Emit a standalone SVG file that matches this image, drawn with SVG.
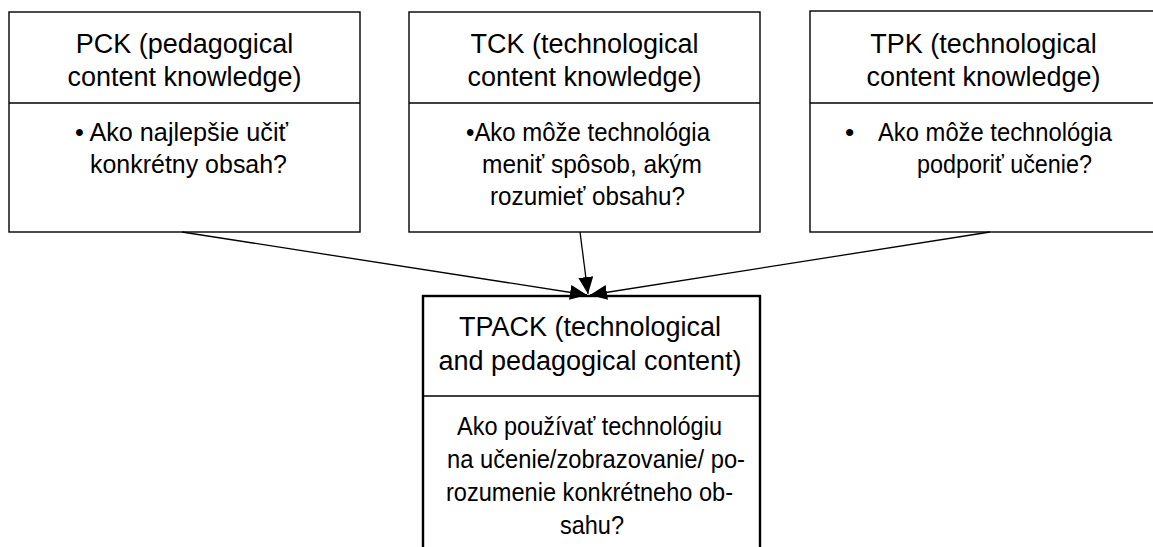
<svg xmlns="http://www.w3.org/2000/svg" width="1153" height="547" viewBox="0 0 1153 547">
<style>
.box{fill:#fff;stroke:#000;stroke-width:1.4}
.tbox{fill:#fff;stroke:#000;stroke-width:2.4}
.div{stroke:#000;stroke-width:1.6}
.h{font-family:"Liberation Sans",Arial,sans-serif;font-size:27px;fill:#000;text-anchor:middle}
.b{font-family:"Liberation Sans",Arial,sans-serif;font-size:26.5px;fill:#000}
.c{stroke:#000;stroke-width:1.3;fill:none;marker-end:url(#ah)}
</style>
<defs>
<marker id="ah" markerUnits="userSpaceOnUse" markerWidth="18" markerHeight="16" refX="17" refY="7.5" orient="auto">
<path d="M0,0 L17,7.5 L0,15 z" fill="#000"/>
</marker>
</defs>
<g id="pck">
<rect class="box" x="9" y="12" width="351" height="220"/>
<line class="div" x1="9" y1="103" x2="360" y2="103"/>
<text class="h" x="184.5" y="53">PCK (pedagogical</text>
<text class="h" x="184.5" y="86">content knowledge)</text>
<text class="b" x="75" y="141" textLength="213" lengthAdjust="spacingAndGlyphs">• Ako najlepšie učiť</text>
<text class="b" x="90" y="173" textLength="197" lengthAdjust="spacingAndGlyphs">konkrétny obsah?</text>
</g>
<g id="tck">
<rect class="box" x="409" y="12" width="351" height="220"/>
<line class="div" x1="409" y1="103" x2="760" y2="103"/>
<text class="h" x="584.5" y="53">TCK (technological</text>
<text class="h" x="584.5" y="86">content knowledge)</text>
<text class="b" x="466" y="141" textLength="244" lengthAdjust="spacingAndGlyphs">•Ako môže technológia</text>
<text class="b" x="482" y="173" textLength="220" lengthAdjust="spacingAndGlyphs">meniť spôsob, akým</text>
<text class="b" x="490" y="205" textLength="195" lengthAdjust="spacingAndGlyphs">rozumieť obsahu?</text>
</g>
<g id="tpk">
<rect class="box" x="810" y="11" width="350" height="221"/>
<line class="div" x1="810" y1="103" x2="1160" y2="103" stroke-width="2.2"/>
<text class="h" x="983.5" y="53">TPK (technological</text>
<text class="h" x="983.5" y="86">content knowledge)</text>
<text class="b" x="845" y="141">•</text>
<text class="b" x="878" y="141" textLength="234" lengthAdjust="spacingAndGlyphs">Ako môže technológia</text>
<text class="b" x="917" y="173" textLength="175" lengthAdjust="spacingAndGlyphs">podporiť učenie?</text>
</g>
<g id="tpack">
<rect class="tbox" x="423" y="296" width="337" height="300"/>
<line class="div" x1="423" y1="396" x2="760" y2="396" stroke-width="2.4"/>
<text class="h" x="590" y="336">TPACK (technological</text>
<text class="h" x="590" y="370">and pedagogical content)</text>
<text class="b" x="457" y="435" textLength="265" lengthAdjust="spacingAndGlyphs">Ako používať technológiu</text>
<text class="b" x="447" y="468" textLength="298" lengthAdjust="spacingAndGlyphs">na učenie/zobrazovanie/ po-</text>
<text class="b" x="446" y="501" textLength="287" lengthAdjust="spacingAndGlyphs">rozumenie konkrétneho ob-</text>
<text class="b" x="560" y="534" textLength="64" lengthAdjust="spacingAndGlyphs">sahu?</text>
</g>
<g id="connectors">
<line class="c" x1="182" y1="232" x2="587" y2="295"/>
<line class="c" x1="580" y1="232" x2="588" y2="294"/>
<line class="c" x1="990" y1="232" x2="590" y2="295"/>
</g>
</svg>
